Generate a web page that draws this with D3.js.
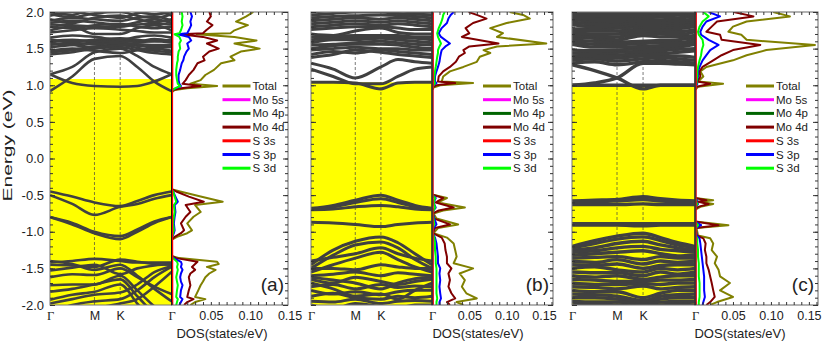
<!DOCTYPE html>
<html>
<head>
<meta charset="utf-8">
<script src="https://cdn.jsdelivr.net/npm/d3@7"></script>
<style>
	body { margin: 0; background: #fff; }
	text { font-family: "Liberation Sans", Arial, sans-serif; fill: #222; }
</style>
</head>
<body>
<svg id="chart" width="831" height="344"></svg>
<script>
'use strict';

// k-path: Γ, ½ΓM, M, K, ⅓KΓ, ⅔KΓ, Γ  (band energies below are read at these points)
var kPoints = [0, 0.289, 0.577, 0.911, 1.133, 1.355, 1.577];
var kTicks = [0, 0.577, 0.911, 1.577];
var kLabels = ['Γ', 'M', 'K', 'Γ'];
var energyTicks = [-2.0, -1.5, -1.0, -0.5, 0.0, 0.5, 1.0, 1.5, 2.0];
var dosTicks = [0.05, 0.10, 0.15];
var legendNames = ['Total', 'Mo 5s', 'Mo 4p', 'Mo 4d', 'S 3s', 'S 3p', 'S 3d'];
var panelTags = ['(a)', '(b)', '(c)'];

// top of the yellow shaded region (eV)
var fillTops = [1.085, 1.04, 1.0];

//--BANDS (eV at kPoints)--
var bandsA = [
	[0.92, 1.12, 1.36, 1.40, 1.25, 1.05, 0.92],
	[1.15, 1.03, 0.99, 0.98, 0.99, 1.05, 1.15],
	[1.15, 1.25, 1.45, 1.50, 1.40, 1.25, 1.15],
	[1.42, 1.45, 1.50, 1.52, 1.48, 1.44, 1.42],
	[1.45, 1.48, 1.53, 1.55, 1.51, 1.47, 1.45],
	[1.47, 1.50, 1.47, 1.44, 1.48, 1.50, 1.47],
	[1.52, 1.55, 1.58, 1.56, 1.54, 1.52, 1.52],
	[1.55, 1.58, 1.56, 1.58, 1.56, 1.55, 1.55],
	[1.58, 1.55, 1.52, 1.55, 1.58, 1.60, 1.58],
	[1.60, 1.62, 1.60, 1.60, 1.60, 1.63, 1.60],
	[1.62, 1.60, 1.62, 1.64, 1.62, 1.60, 1.62],
	[1.65, 1.68, 1.66, 1.62, 1.66, 1.68, 1.65],
	[1.72, 1.75, 1.78, 1.76, 1.74, 1.72, 1.72],
	[1.75, 1.80, 1.70, 1.70, 1.78, 1.82, 1.75],
	[1.80, 1.78, 1.82, 1.84, 1.80, 1.78, 1.80],
	[1.83, 1.82, 1.80, 1.80, 1.83, 1.84, 1.83],
	[1.85, 1.88, 1.86, 1.82, 1.86, 1.90, 1.85],
	[1.88, 1.92, 1.90, 1.88, 1.92, 1.94, 1.88],
	[1.90, 1.85, 1.92, 1.95, 1.90, 1.86, 1.90],
	[1.95, 2.00, 1.96, 1.92, 1.98, 2.02, 1.95],
	[1.97, 1.93, 1.98, 2.00, 1.95, 1.92, 1.97],
	[2.00, 1.96, 2.05, 2.05, 2.00, 1.97, 2.00],
	[-0.45, -0.52, -0.60, -0.65, -0.58, -0.50, -0.45],
	[-0.50, -0.62, -0.77, -0.66, -0.62, -0.55, -0.50],
	[-0.80, -0.90, -1.02, -1.10, -1.00, -0.88, -0.80],
	[-0.80, -0.88, -1.00, -1.06, -0.97, -0.86, -0.80],
	[-1.42, -1.40, -1.37, -1.40, -1.42, -1.42, -1.42],
	[-1.45, -1.46, -1.48, -1.38, -1.41, -1.44, -1.45],
	[-1.53, -1.49, -1.45, -1.58, -1.50, -1.46, -1.44],
	[-1.62, -1.58, -1.59, -1.50, -1.62, -1.75, -1.85],
	[-1.73, -1.72, -1.72, -1.60, -1.80, -2.02, -2.20],
	[-1.82, -1.78, -1.72, -1.65, -1.88, -2.12, -2.30],
	[-1.93, -1.86, -1.82, -1.72, -1.98, -2.25, -2.50],
	[-1.98, -1.92, -1.86, -1.83, -1.72, -1.55, -1.47],
	[-2.10, -2.00, -1.95, -1.92, -1.80, -1.62, -1.48],
	[-2.30, -2.15, -2.05, -1.98, -1.92, -1.75, -1.55],
	[-1.40, -1.44, -1.52, -1.45, -1.60, -1.78, -1.95]
];

var bandsB = [
	[1.04, 1.04, 1.03, 0.95, 1.03, 1.04, 1.04],
	[1.22, 1.12, 1.02, 1.02, 1.12, 1.22, 1.25],
	[1.30, 1.22, 1.10, 1.25, 1.35, 1.32, 1.30],
	[1.38, 1.42, 1.48, 1.45, 1.42, 1.40, 1.38],
	[1.42, 1.46, 1.44, 1.48, 1.46, 1.44, 1.42],
	[1.48, 1.50, 1.52, 1.50, 1.50, 1.48, 1.48],
	[1.50, 1.54, 1.56, 1.56, 1.55, 1.52, 1.50],
	[1.55, 1.56, 1.58, 1.60, 1.58, 1.56, 1.55],
	[1.58, 1.62, 1.62, 1.64, 1.62, 1.60, 1.58],
	[1.62, 1.64, 1.65, 1.66, 1.65, 1.64, 1.62],
	[1.66, 1.67, 1.68, 1.68, 1.68, 1.66, 1.66],
	[1.70, 1.68, 1.74, 1.78, 1.72, 1.70, 1.70],
	[1.76, 1.78, 1.80, 1.80, 1.78, 1.76, 1.76],
	[1.80, 1.82, 1.84, 1.82, 1.84, 1.82, 1.80],
	[1.84, 1.86, 1.88, 1.86, 1.88, 1.86, 1.84],
	[1.88, 1.90, 1.92, 1.90, 1.92, 1.90, 1.88],
	[1.92, 1.94, 1.95, 1.96, 1.95, 1.94, 1.92],
	[1.96, 1.98, 2.00, 2.00, 1.98, 1.97, 1.96],
	[2.00, 2.02, 2.04, 2.04, 2.02, 2.00, 2.00],
	[-0.68, -0.64, -0.57, -0.50, -0.57, -0.64, -0.68],
	[-0.69, -0.66, -0.60, -0.55, -0.60, -0.66, -0.69],
	[-0.70, -0.69, -0.66, -0.64, -0.66, -0.69, -0.70],
	[-0.87, -0.88, -0.90, -0.93, -0.90, -0.88, -0.87],
	[-1.45, -1.25, -1.13, -1.07, -1.15, -1.30, -1.45],
	[-1.50, -1.32, -1.18, -1.14, -1.22, -1.38, -1.50],
	[-1.40, -1.35, -1.30, -1.22, -1.30, -1.36, -1.40],
	[-1.55, -1.45, -1.36, -1.28, -1.38, -1.48, -1.55],
	[-1.50, -1.50, -1.52, -1.45, -1.48, -1.50, -1.50],
	[-1.60, -1.58, -1.55, -1.60, -1.56, -1.58, -1.60],
	[-1.65, -1.70, -1.62, -1.68, -1.72, -1.68, -1.65],
	[-1.75, -1.72, -1.78, -1.72, -1.76, -1.74, -1.75],
	[-1.80, -1.85, -1.82, -1.86, -1.82, -1.80, -1.80],
	[-1.88, -1.84, -1.90, -1.92, -1.88, -1.90, -1.88],
	[-1.95, -1.96, -1.92, -1.98, -1.95, -1.94, -1.95],
	[-1.62, -1.66, -1.70, -1.78, -1.70, -1.64, -1.62],
	[-1.70, -1.78, -1.88, -1.85, -1.92, -1.80, -1.70],
	[-2.00, -2.05, -1.98, -2.02, -2.04, -2.00, -2.00]
];

var bandsC = [
	[1.00, 1.00, 1.00, 1.00, 1.00, 1.00, 1.00],
	[1.28, 1.20, 1.10, 0.95, 1.00, 1.00, 1.00],
	[1.00, 1.03, 1.10, 1.30, 1.30, 1.29, 1.28],
	[1.30, 1.32, 1.28, 1.32, 1.34, 1.32, 1.30],
	[1.34, 1.36, 1.33, 1.36, 1.38, 1.36, 1.34],
	[1.38, 1.38, 1.37, 1.40, 1.40, 1.40, 1.38],
	[1.40, 1.41, 1.41, 1.43, 1.43, 1.45, 1.47],
	[1.44, 1.44, 1.45, 1.46, 1.47, 1.49, 1.50],
	[1.48, 1.47, 1.48, 1.50, 1.50, 1.52, 1.56],
	[1.56, 1.52, 1.52, 1.53, 1.54, 1.55, 1.59],
	[1.59, 1.56, 1.56, 1.57, 1.58, 1.58, 1.62],
	[1.62, 1.60, 1.59, 1.60, 1.61, 1.62, 1.65],
	[1.65, 1.64, 1.62, 1.68, 1.66, 1.66, 1.68],
	[1.68, 1.67, 1.66, 1.71, 1.70, 1.69, 1.73],
	[1.71, 1.70, 1.70, 1.74, 1.73, 1.73, 1.76],
	[1.74, 1.74, 1.74, 1.77, 1.76, 1.77, 1.80],
	[1.77, 1.77, 1.78, 1.80, 1.80, 1.79, 1.82],
	[1.83, 1.80, 1.81, 1.83, 1.83, 1.82, 1.85],
	[1.86, 1.84, 1.84, 1.86, 1.86, 1.85, 1.88],
	[1.89, 1.88, 1.87, 1.89, 1.89, 1.88, 1.91],
	[1.92, 1.91, 1.91, 1.92, 1.93, 1.92, 1.94],
	[1.95, 1.95, 1.94, 1.95, 1.96, 1.96, 1.97],
	[1.98, 1.98, 1.98, 1.98, 1.99, 1.99, 2.00],
	[2.02, 2.02, 2.02, 2.02, 2.02, 2.02, 2.03],
	[-0.58, -0.57, -0.56, -0.52, -0.55, -0.57, -0.58],
	[-0.59, -0.59, -0.58, -0.56, -0.58, -0.59, -0.59],
	[-0.63, -0.63, -0.63, -0.62, -0.63, -0.63, -0.63],
	[-0.89, -0.89, -0.89, -0.89, -0.89, -0.89, -0.89],
	[-0.91, -0.91, -0.91, -0.92, -0.91, -0.91, -0.91],
	[-1.20, -1.12, -1.06, -1.02, -1.08, -1.15, -1.20],
	[-1.22, -1.16, -1.10, -1.07, -1.12, -1.18, -1.22],
	[-1.25, -1.22, -1.16, -1.13, -1.18, -1.22, -1.25],
	[-1.28, -1.26, -1.22, -1.20, -1.24, -1.26, -1.28],
	[-1.32, -1.30, -1.28, -1.26, -1.30, -1.33, -1.32],
	[-1.36, -1.35, -1.34, -1.38, -1.34, -1.36, -1.36],
	[-1.40, -1.42, -1.38, -1.44, -1.40, -1.42, -1.40],
	[-1.45, -1.46, -1.44, -1.50, -1.46, -1.45, -1.45],
	[-1.50, -1.48, -1.52, -1.55, -1.50, -1.52, -1.50],
	[-1.55, -1.56, -1.56, -1.60, -1.55, -1.58, -1.55],
	[-1.60, -1.62, -1.60, -1.65, -1.62, -1.60, -1.60],
	[-1.65, -1.66, -1.68, -1.68, -1.66, -1.66, -1.65],
	[-1.70, -1.72, -1.72, -1.71, -1.72, -1.70, -1.70],
	[-1.75, -1.76, -1.78, -1.74, -1.78, -1.76, -1.75],
	[-1.80, -1.82, -1.82, -1.90, -1.84, -1.80, -1.80],
	[-1.85, -1.86, -1.88, -1.94, -1.88, -1.86, -1.85],
	[-1.90, -1.90, -1.92, -1.97, -1.92, -1.90, -1.90],
	[-1.95, -1.96, -1.96, -1.99, -1.96, -1.95, -1.95],
	[-2.00, -1.98, -2.00, -2.02, -2.00, -1.99, -2.00]
];

//--DOS (states/eV) read along each panel's energy grid--
var dosEnergyA = [2.00, 1.94, 1.87, 1.82, 1.75, 1.71, 1.695, 1.66, 1.61, 1.57, 1.50, 1.46, 1.39, 1.34, 1.30, 1.21, 1.14, 1.07, 1.02, 0.99, 0.96, 0.935, 0.90, -0.42, -0.45, -0.52, -0.59, -0.635, -0.73, -0.795, -0.885, -0.98, -1.02, -1.07, -1.11, -1.33, -1.36, -1.41, -1.44, -1.48, -1.52, -1.57, -1.62, -1.68, -1.73, -1.80, -1.89, -1.92, -1.96, -2.00];
var totalA = [0.104, 0.095, 0.082, 0.097, 0.080, 0.075, 0.032, 0.080, 0.108, 0.080, 0.112, 0.088, 0.075, 0.080, 0.063, 0.054, 0.043, 0.037, 0.024, 0.058, 0.020, 0.004, 0, 0, 0.011, 0.037, 0.065, 0.030, 0.037, 0.028, 0.020, 0.026, 0.020, 0.007, 0, 0, 0.010, 0.058, 0.060, 0.045, 0.056, 0.048, 0.043, 0.040, 0.037, 0.034, 0.030, 0.043, 0.030, 0.024];
var mo4dA = [0.048, 0.050, 0.045, 0.052, 0.044, 0.040, 0.012, 0.040, 0.058, 0.045, 0.060, 0.048, 0.040, 0.042, 0.033, 0.028, 0.022, 0.018, 0.014, 0.037, 0.012, 0.002, 0, 0, 0.006, 0.022, 0.041, 0.018, 0.024, 0.018, 0.012, 0.016, 0.012, 0.004, 0, 0, 0.006, 0.033, 0.030, 0.026, 0.030, 0.024, 0.022, 0.023, 0.024, 0.022, 0.020, 0.028, 0.020, 0.016];
var s3pA = [0.024, 0.026, 0.024, 0.025, 0.022, 0.020, 0.008, 0.022, 0.025, 0.020, 0.022, 0.019, 0.016, 0.015, 0.013, 0.011, 0.009, 0.009, 0.010, 0.012, 0.006, 0.001, 0, 0, 0.002, 0.005, 0.008, 0.004, 0.005, 0.004, 0.003, 0.004, 0.003, 0.001, 0, 0, 0.003, 0.012, 0.013, 0.012, 0.014, 0.012, 0.011, 0.012, 0.014, 0.012, 0.011, 0.014, 0.012, 0.010];
var s3dA = [0.013, 0.014, 0.013, 0.014, 0.012, 0.010, 0.004, 0.010, 0.012, 0.010, 0.011, 0.009, 0.008, 0.008, 0.007, 0.006, 0.006, 0.007, 0.008, 0.011, 0.005, 0.001, 0, 0, 0.002, 0.004, 0.006, 0.003, 0.004, 0.003, 0.002, 0.003, 0.002, 0.001, 0, 0, 0.002, 0.007, 0.008, 0.007, 0.008, 0.007, 0.006, 0.007, 0.008, 0.007, 0.006, 0.008, 0.007, 0.006];

var dosEnergyB = [2.00, 1.96, 1.91, 1.85, 1.78, 1.71, 1.66, 1.57, 1.53, 1.48, 1.44, 1.39, 1.32, 1.25, 1.19, 1.12, 1.05, 1.03, 1.00, 0.97, 0.935, -0.49, -0.54, -0.60, -0.67, -0.71, -0.75, -0.82, -0.90, -0.95, -1.02, -1.08, -1.16, -1.25, -1.34, -1.43, -1.50, -1.57, -1.66, -1.75, -1.84, -1.91, -1.96, -2.00];
var totalB = [0.104, 0.122, 0.131, 0.100, 0.078, 0.095, 0.087, 0.153, 0.087, 0.069, 0.078, 0.064, 0.060, 0.042, 0.024, 0.015, 0.013, 0.055, 0.011, 0.002, 0, 0, 0.020, 0.008, 0.044, 0.015, 0.002, 0.006, 0.035, 0.008, 0.002, 0.020, 0.029, 0.031, 0.033, 0.029, 0.055, 0.037, 0.044, 0.040, 0.046, 0.060, 0.033, 0.042];
var mo4dB = [0.049, 0.060, 0.073, 0.055, 0.045, 0.050, 0.040, 0.089, 0.050, 0.042, 0.044, 0.036, 0.032, 0.024, 0.015, 0.009, 0.008, 0.031, 0.006, 0.001, 0, 0, 0.015, 0.005, 0.029, 0.009, 0.001, 0.003, 0.024, 0.004, 0.001, 0.013, 0.017, 0.018, 0.020, 0.020, 0.026, 0.022, 0.024, 0.022, 0.026, 0.031, 0.020, 0.024];
var s3pB = [0.029, 0.025, 0.022, 0.020, 0.013, 0.009, 0.012, 0.024, 0.018, 0.013, 0.012, 0.011, 0.010, 0.008, 0.006, 0.004, 0.004, 0.006, 0.002, 0.001, 0, 0, 0.005, 0.002, 0.005, 0.002, 0.001, 0.003, 0.006, 0.002, 0.001, 0.004, 0.006, 0.007, 0.008, 0.008, 0.011, 0.010, 0.011, 0.010, 0.011, 0.012, 0.010, 0.010];
var s3dB = [0.017, 0.015, 0.014, 0.012, 0.009, 0.007, 0.008, 0.012, 0.010, 0.008, 0.008, 0.007, 0.006, 0.005, 0.004, 0.003, 0.003, 0.004, 0.002, 0.001, 0, 0, 0.004, 0.002, 0.004, 0.002, 0.001, 0.002, 0.003, 0.001, 0.001, 0.003, 0.004, 0.004, 0.005, 0.005, 0.006, 0.006, 0.006, 0.006, 0.006, 0.007, 0.006, 0.006];

var dosEnergyC = [2.00, 1.94, 1.87, 1.80, 1.73, 1.69, 1.62, 1.55, 1.48, 1.41, 1.34, 1.25, 1.19, 1.12, 1.05, 1.02, 0.98, 0.935, -0.54, -0.57, -0.59, -0.62, -0.66, -0.70, -0.86, -0.91, -0.95, -1.05, -1.09, -1.16, -1.25, -1.34, -1.43, -1.52, -1.61, -1.70, -1.80, -1.89, -1.96, -2.00];
var totalC = [0.103, 0.125, 0.068, 0.050, 0.044, 0.061, 0.068, 0.158, 0.094, 0.068, 0.050, 0.015, 0.007, 0.011, 0.004, 0.037, 0.004, 0, 0, 0.024, 0.007, 0.024, 0.007, 0, 0, 0.044, 0.002, 0.004, 0.020, 0.024, 0.022, 0.029, 0.026, 0.031, 0.033, 0.046, 0.033, 0.050, 0.029, 0.020];
var mo4dC = [0.051, 0.077, 0.029, 0.022, 0.015, 0.033, 0.035, 0.086, 0.050, 0.035, 0.024, 0.010, 0.006, 0.007, 0.003, 0.020, 0.002, 0, 0, 0.015, 0.004, 0.018, 0.004, 0, 0, 0.031, 0.001, 0.002, 0.011, 0.014, 0.013, 0.015, 0.015, 0.018, 0.020, 0.022, 0.024, 0.026, 0.020, 0.015];
var s3pC = [0.018, 0.033, 0.015, 0.010, 0.007, 0.008, 0.018, 0.031, 0.020, 0.015, 0.010, 0.006, 0.004, 0.004, 0.002, 0.003, 0.001, 0, 0, 0.003, 0.001, 0.004, 0.001, 0, 0, 0.008, 0.001, 0.002, 0.006, 0.007, 0.008, 0.009, 0.010, 0.011, 0.012, 0.012, 0.012, 0.013, 0.011, 0.010];
var s3dC = [0.011, 0.018, 0.010, 0.006, 0.004, 0.005, 0.010, 0.011, 0.009, 0.008, 0.006, 0.004, 0.003, 0.003, 0.002, 0.002, 0.001, 0, 0, 0.002, 0.001, 0.003, 0.001, 0, 0, 0.004, 0.001, 0.001, 0.003, 0.003, 0.004, 0.004, 0.005, 0.005, 0.005, 0.006, 0.006, 0.006, 0.005, 0.005];

// the s-like and Mo 4p projections hug the axis in every panel
var minorEnergy = [2.0, 1.0, 0.93, -0.45, -2.0];
var mo5sDos = [0.0006, 0.0006, 0.0004, 0.0004, 0.0006];
var mo4pDos = [0.0008, 0.0008, 0.0006, 0.0006, 0.0008];
var s3sDos = [0.0012, 0.0012, 0.0009, 0.0009, 0.0012];

var colors = {
	'Total': '#808000', 'Mo 5s': '#ff00ff', 'Mo 4p': '#006400', 'Mo 4d': '#800000',
	'S 3s': '#ff0000', 'S 3p': '#0000ff', 'S 3d': '#00ff00'
};

function pairs(es, vs) {
	return es.map(function (e, i) { return { e: e, v: vs[i] }; });
}

// layout of the three panels (pixels): band box x0..xG, DOS box xG..x1
var panels = [
	{ x0: 50, xG: 171.5, x1: 288, dosMax: 0.148, dosLabelX: 222, bandWidth: 2.6, bands: bandsA,
		dos: { E: dosEnergyA, 'Total': totalA, 'Mo 4d': mo4dA, 'S 3p': s3pA, 'S 3d': s3dA } },
	{ x0: 311, xG: 432, x1: 553, dosMax: 0.162, dosLabelX: 478, bandWidth: 3.0, bands: bandsB,
		dos: { E: dosEnergyB, 'Total': totalB, 'Mo 4d': mo4dB, 'S 3p': s3pB, 'S 3d': s3dB } },
	{ x0: 572, xG: 695, x1: 818, dosMax: 0.162, dosLabelX: 740, bandWidth: 3.4, bands: bandsC,
		dos: { E: dosEnergyC, 'Total': totalC, 'Mo 4d': mo4dC, 'S 3p': s3pC, 'S 3d': s3dC } }
];

var svg = d3.select('#chart');
var defs = svg.append('defs');
var yTop = 12, yBottom = 305;

var y = d3.scaleLinear().domain([-2, 2]).range([yBottom, yTop]);

function noDomain(g) { g.select('.domain').remove(); }

panels.forEach(function (p, pi) {
	var kx = d3.scaleLinear().domain([0, kPoints[kPoints.length - 1]]).range([p.x0, p.xG]);
	var dx = d3.scaleLinear().domain([0, p.dosMax]).range([p.xG, p.x1]);
	var g = svg.append('g');

	defs.append('clipPath').attr('id', 'bandclip' + pi)
		.append('rect').attr('x', p.x0).attr('y', yTop).attr('width', p.xG - p.x0).attr('height', yBottom - yTop);
	defs.append('clipPath').attr('id', 'dosclip' + pi)
		.append('rect').attr('x', p.xG).attr('y', yTop).attr('width', p.x1 - p.xG).attr('height', yBottom - yTop);

	// yellow shading up to the conduction edge
	g.append('rect')
		.attr('x', p.x0).attr('y', y(fillTops[pi]))
		.attr('width', p.xG - p.x0).attr('height', y(-2) - y(fillTops[pi]))
		.attr('fill', '#ffff00');

	// high symmetry lines at M and K
	g.selectAll('line.kline').data(kTicks.slice(1, 3)).join('line')
		.attr('class', 'kline')
		.attr('x1', function (d) { return kx(d); }).attr('x2', function (d) { return kx(d); })
		.attr('y1', yTop).attr('y2', yBottom)
		.attr('stroke', '#444').attr('stroke-width', 1).attr('stroke-dasharray', '3,2').attr('opacity', 0.7);

	var bandLine = d3.line()
		.x(function (d, i) { return kx(kPoints[i]); })
		.y(function (d) { return y(d); })
		.curve(d3.curveMonotoneX);

	g.append('g').attr('clip-path', 'url(#bandclip' + pi + ')')
		.selectAll('path').data(p.bands).join('path')
		.attr('d', bandLine)
		.attr('fill', 'none').attr('stroke', '#404040').attr('stroke-width', p.bandWidth);

	// DOS curves
	var dosLine = d3.line()
		.x(function (d) { return dx(d.v); })
		.y(function (d) { return y(d.e); });

	var dosG = g.append('g').attr('clip-path', 'url(#dosclip' + pi + ')');
	['Total', 'Mo 4d', 'S 3p', 'S 3d'].forEach(function (name) {
		dosG.append('path').datum(pairs(p.dos.E, p.dos[name]))
			.attr('d', dosLine).attr('fill', 'none')
			.attr('stroke', colors[name]).attr('stroke-width', 2).attr('stroke-linejoin', 'round');
	});
	[['Mo 4p', mo4pDos], ['Mo 5s', mo5sDos], ['S 3s', s3sDos]].forEach(function (s) {
		dosG.append('path').datum(pairs(minorEnergy, s[1]))
			.attr('d', dosLine).attr('fill', 'none')
			.attr('stroke', colors[s[0]]).attr('stroke-width', 1.8);
	});

	// frames
	g.append('rect').attr('x', p.x0).attr('y', yTop).attr('width', p.xG - p.x0).attr('height', yBottom - yTop)
		.attr('fill', 'none').attr('stroke', '#777').attr('stroke-width', 1);
	g.append('rect').attr('x', p.xG).attr('y', yTop).attr('width', p.x1 - p.xG).attr('height', yBottom - yTop)
		.attr('fill', 'none').attr('stroke', '#666').attr('stroke-width', 1);
	g.append('line').attr('x1', p.xG).attr('x2', p.xG).attr('y1', yTop).attr('y2', yBottom)
		.attr('stroke', '#111').attr('stroke-width', 1);

	// inward ticks: band box left, DOS box right, top and bottom
	var tickCol = '#333';
	g.append('g').attr('transform', 'translate(' + p.x0 + ',0)')
		.call(d3.axisRight(y).ticks(40).tickSize(3).tickFormat('')).call(noDomain).attr('color', tickCol);
	g.append('g').attr('transform', 'translate(' + p.x0 + ',0)')
		.call(d3.axisRight(y).tickValues(energyTicks).tickSize(5).tickFormat('')).call(noDomain).attr('color', tickCol);
	g.append('g').attr('transform', 'translate(' + p.x1 + ',0)')
		.call(d3.axisLeft(y).ticks(40).tickSize(3).tickFormat('')).call(noDomain).attr('color', tickCol);
	g.append('g').attr('transform', 'translate(' + p.x1 + ',0)')
		.call(d3.axisLeft(y).tickValues(energyTicks).tickSize(5).tickFormat('')).call(noDomain).attr('color', tickCol);
	g.append('g').attr('transform', 'translate(0,' + yTop + ')')
		.call(d3.axisBottom(dx).ticks(15).tickSize(3).tickFormat('')).call(noDomain).attr('color', tickCol);
	g.append('g').attr('transform', 'translate(0,' + yBottom + ')')
		.call(d3.axisTop(dx).ticks(15).tickSize(3).tickFormat('')).call(noDomain).attr('color', tickCol);

	// tick labels
	var kAxis = g.append('g').attr('transform', 'translate(0,' + yBottom + ')')
		.call(d3.axisBottom(kx).tickValues(kTicks).tickSize(0).tickPadding(6)
			.tickFormat(function (d, i) { return kLabels[i]; }))
		.call(noDomain);
	kAxis.selectAll('text').attr('font-size', 12.5).attr('fill', '#222')
		.style('font-family', function (d, i) { return kLabels[i] === 'Γ' ? '"Liberation Serif", serif' : null; });

	var dAxis = g.append('g').attr('transform', 'translate(0,' + yBottom + ')')
		.call(d3.axisBottom(dx).tickValues(dosTicks).tickSize(0).tickPadding(6)
			.tickFormat(function (d) { return d.toFixed(2); }))
		.call(noDomain);
	dAxis.selectAll('text').attr('font-size', 12.5).attr('fill', '#222');

	g.append('text').attr('x', p.dosLabelX).attr('y', 338).attr('text-anchor', 'middle')
		.attr('font-size', 13).text('DOS(states/eV)');

	if (pi === 0) {
		var eAxis = g.append('g').attr('transform', 'translate(' + p.x0 + ',0)')
			.call(d3.axisLeft(y).tickValues(energyTicks).tickSize(0).tickPadding(6)
				.tickFormat(function (d) { return d.toFixed(1); }))
			.call(noDomain);
		eAxis.selectAll('text').attr('font-size', 13).attr('fill', '#222');
		g.append('text').attr('transform', 'translate(12,145.5) rotate(-90)')
			.attr('text-anchor', 'middle').attr('font-size', 13)
			.attr('textLength', 112).attr('lengthAdjust', 'spacingAndGlyphs')
			.text('Energy (eV)');
	}

	// legend
	var lx = p.xG + 51;
	var leg = g.selectAll('g.leg').data(legendNames).join('g').attr('class', 'leg')
		.attr('transform', function (d, i) { return 'translate(' + lx + ',' + (86 + i * 13.7) + ')'; });
	leg.append('line').attr('x1', 0).attr('x2', 28).attr('y1', 0).attr('y2', 0)
		.attr('stroke', function (d) { return colors[d]; }).attr('stroke-width', 3);
	leg.append('text').attr('x', 30).attr('dy', '0.35em').attr('font-size', 11.5).text(function (d) { return d; });

	g.append('text').attr('x', p.x1 - 4).attr('y', 291).attr('text-anchor', 'end')
		.attr('font-size', 19).text(panelTags[pi]);
});
</script>
</body>
</html>
